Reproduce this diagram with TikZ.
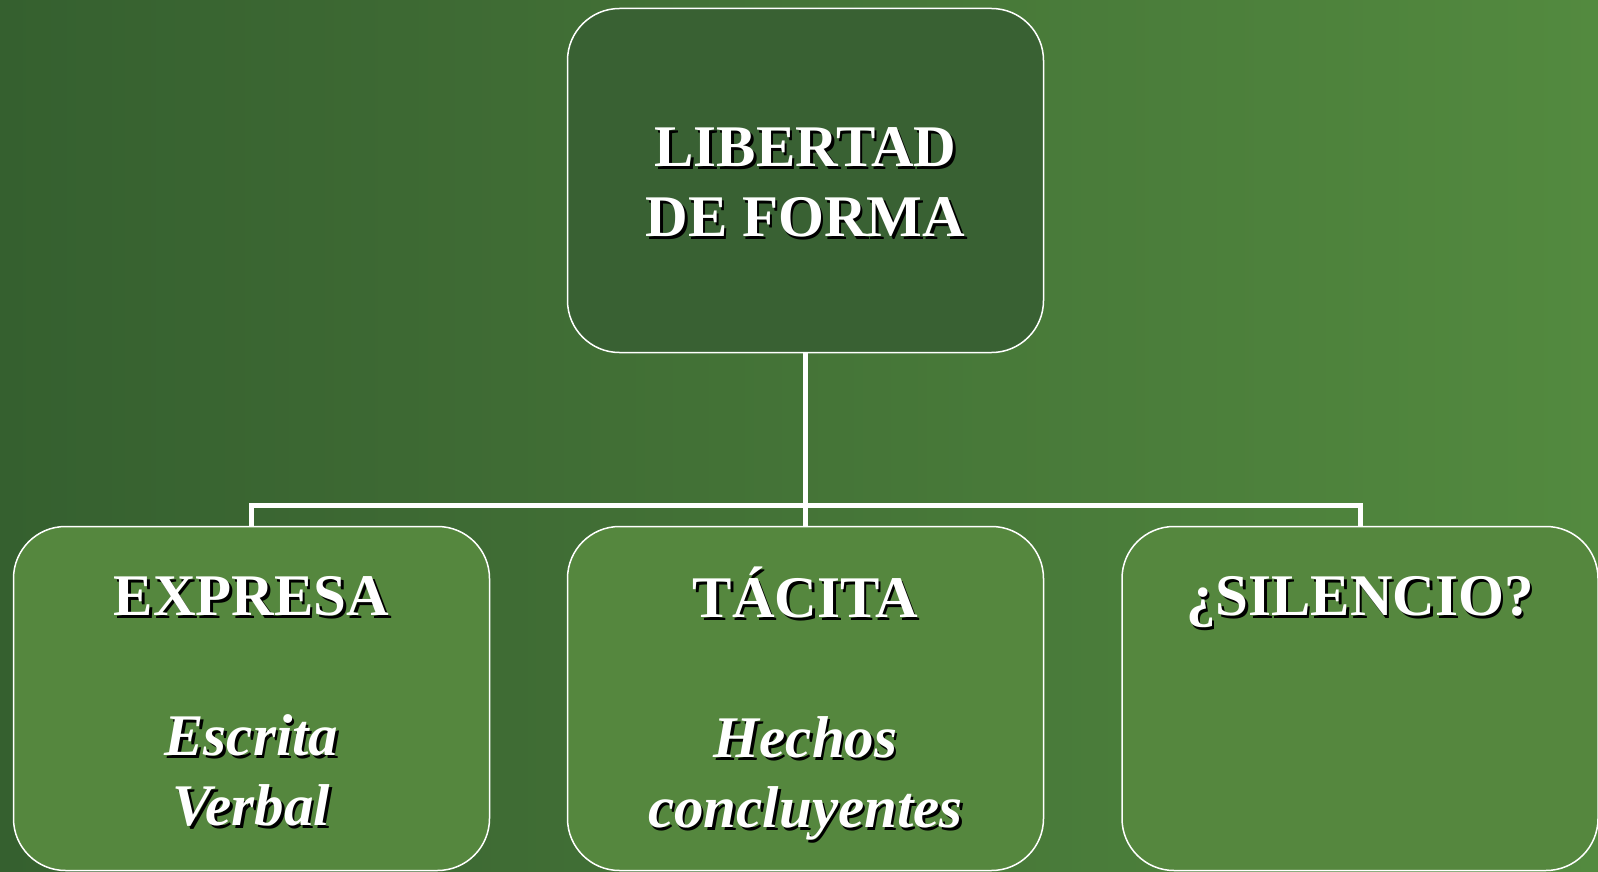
\documentclass[tikz,border=0pt]{standalone}
\usepackage{fontspec}
\setmainfont{Liberation Serif}
\usepackage{tikz}
\usetikzlibrary{positioning}

\definecolor{bgdark}{HTML}{35602F}
\definecolor{bgmid}{HTML}{3D6933}
\definecolor{bglight}{HTML}{538A3F}
\definecolor{topfill}{HTML}{396133}
\definecolor{boxfill}{HTML}{55873E}

% white text with a small black shadow
\newcommand{\shtxt}[1]{\strut\rlap{\kern2.5pt\raisebox{-2.5pt}{\color{black}#1}}#1}

\begin{document}
\begin{tikzpicture}[x=1pt,y=-1pt,
	box/.style={rectangle, rounded corners=52pt, draw=white, line width=1.5pt, minimum width=476pt, minimum height=344pt, inner sep=0pt},
	txt/.style={align=center, inner sep=0pt, text=white, font=\fontsize{59}{70}\selectfont\bfseries},
	conn/.style={draw=white, line width=5pt}]
\useasboundingbox (0,0) rectangle (1598,872);
\shade[left color=bgdark, right color=bgmid] (0,0) rectangle (400,872);
\shade[left color=bgmid, right color=bglight] (400,0) rectangle (1598,872);

\node [box, fill=topfill] (libertad) at (805.5,180.5) {};
\node [box, fill=boxfill] (expresa) at (251.5,698.5) {};
\node [box, fill=boxfill] (tacita) at (805.5,698.5) {};
\node [box, fill=boxfill] (silencio) at (1360,698.5) {};
\coordinate (bar) at (805.5,505);

\draw [conn] (libertad.south) -- (tacita.north);
\draw [conn] (expresa.north) |- (bar) -| (silencio.north);

\node [txt, below=110pt of libertad.north] (tlib) {\shtxt{LIBERTAD}\\ \shtxt{DE FORMA}};
\node [txt, below=41pt of expresa.north] (texp) {\shtxt{EXPRESA}\\ \strut\\ \shtxt{\itshape Escrita}\\ \shtxt{\itshape Verbal}};
\node [txt, below=41pt of tacita.north] (ttac) {\shtxt{TÁCITA}\\ \strut\\ \shtxt{\itshape Hechos}\\ \shtxt{\itshape concluyentes}};
\node [txt, below=41pt of silencio.north] (tsil) {\shtxt{¿SILENCIO?}};
\end{tikzpicture}
\end{document}
